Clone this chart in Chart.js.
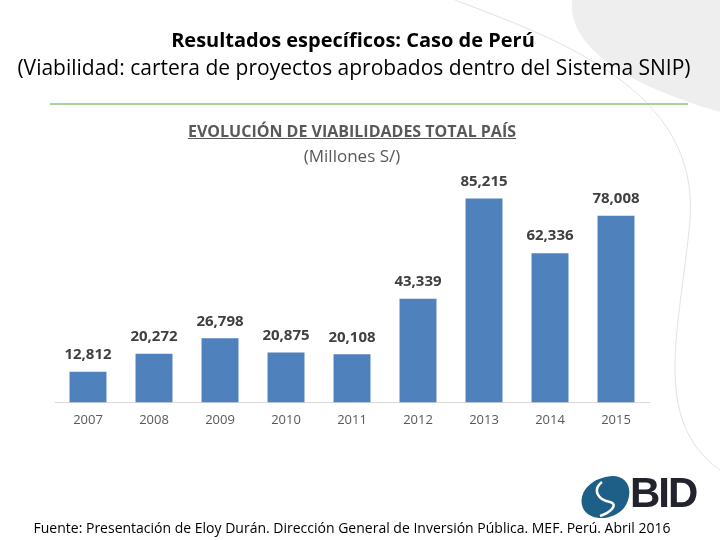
<!DOCTYPE html>
<html>
<head>
<meta charset="utf-8">
<script src="https://cdn.jsdelivr.net/npm/chart.js@4"></script>
<style>
  html, body { margin: 0; padding: 0; background: #fff; }
  #slide { position: relative; width: 720px; height: 540px; overflow: hidden; font-family: 'Open Sans', sans-serif; }
  #bg { position: absolute; left: 0; top: 0; }
  #chart { position: absolute; left: 0; top: 0; }
  .txt { position: absolute; left: 0; width: 720px; text-align: center; white-space: nowrap; }
  #title { top: 26px; left: -7px; font-size: 20px; line-height: 27px; font-weight: bold; color: #000; }
  #subtitle { top: 53px; left: -6px; font-size: 21px; line-height: 29px; color: #000; }
  #rule { position: absolute; left: 50px; top: 103px; width: 638px; height: 2px; background: #a9d39a; }
  #ctitle { top: 120px; left: -8px; font-size: 16px; line-height: 22px; font-weight: bold; color: #595959; text-decoration: underline; }
  #cunit { top: 144px; left: -8px; font-size: 17px; line-height: 23px; color: #595959; }
  #source { top: 518px; left: -8px; font-size: 14px; line-height: 19px; color: #000; }
  #bid { position: absolute; left: 630px; top: 472px; font-family: 'Liberation Sans', sans-serif; font-size: 42px; line-height: 42px; font-weight: bold; color: #23232d; letter-spacing: -2px; }
</style>
</head>
<body>
<div id="slide">
  <svg id="bg" width="720" height="540">
    <path d="M572 0 C568 40 610 80 720 112 L720 0 Z" fill="#eeeeee"/>
    <path d="M455 0 C560 40 700 90 690 220 C680 330 650 420 720 470" fill="none" stroke="#e3e3e3" stroke-width="1"/>
    <path d="M612 476 C588 478 576 496 584 510 C592 522 614 520 624 508 C634 494 630 476 612 476 Z" fill="#1d5f86"/>
    <path d="M602 482 C592 490 598 500 610 502 C618 504 612 512 600 516" fill="none" stroke="#fff" stroke-width="2.5"/>
  </svg>
  <canvas id="chart" width="720" height="540"></canvas>
  <div class="txt" id="title">Resultados específicos: Caso de Perú</div>
  <div class="txt" id="subtitle">(Viabilidad: cartera de proyectos aprobados dentro del Sistema SNIP)</div>
  <div id="rule"></div>
  <div class="txt" id="ctitle">EVOLUCIÓN DE VIABILIDADES TOTAL PAÍS</div>
  <div class="txt" id="cunit">(Millones S/)</div>
  <div class="txt" id="source">Fuente: Presentación de Eloy Durán. Dirección General de Inversión Pública. MEF. Perú. Abril 2016</div>
  <div id="bid">BID</div>
</div>
<script>
const years = ['2007', '2008', '2009', '2010', '2011', '2012', '2013', '2014', '2015'];
const viabilidades = [12812, 20272, 26798, 20875, 20108, 43339, 85215, 62336, 78008];

const canvas = document.getElementById('chart');

// draws the value above each bar
const valueLabels = {
  id: 'valueLabels',
  afterDatasetsDraw(chart) {
    const ctx = chart.ctx;
    const meta = chart.getDatasetMeta(0);
    ctx.save();
    ctx.font = 'bold 15px "Open Sans", sans-serif';
    ctx.fillStyle = '#404040';
    ctx.textAlign = 'center';
    ctx.textBaseline = 'middle';
    meta.data.forEach((bar, i) => {
      ctx.fillText(viabilidades[i].toLocaleString('en-US'), bar.x, bar.y - 17);
    });
    ctx.restore();
  }
};

new Chart(canvas, {
  type: 'bar',
  data: {
    labels: years,
    datasets: [
      {
        data: viabilidades,
        backgroundColor: '#4f81bd',
        borderWidth: 0,
        barPercentage: 0.56,
        categoryPercentage: 1,
      },
    ],
  },
  options: {
    responsive: false,
    animation: false,
    layout: {
      padding: { left: 55, right: 71, top: 163, bottom: 102 },
    },
    scales: {
      x: {
        grid: { display: false, drawTicks: false },
        border: { display: true, color: '#d9d9d9', width: 1 },
        ticks: {
          color: '#595959',
          font: { family: 'Open Sans', size: 13 },
          padding: 10,
        },
      },
      y: {
        display: false,
        min: 0,
        max: 100000,
      },
    },
    plugins: {
      legend: { display: false },
      tooltip: { enabled: false },
    },
  },
  plugins: [valueLabels],
});
</script>
</body>
</html>
